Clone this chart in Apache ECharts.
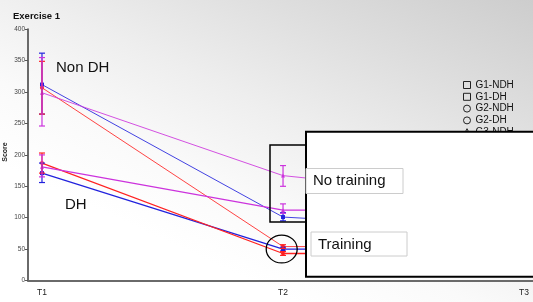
<!DOCTYPE html>
<html>
<head>
<meta charset="utf-8">
<script src="https://cdn.jsdelivr.net/npm/echarts@6/dist/echarts.min.js"></script>
<style>
  html, body { margin: 0; padding: 0; }
  body {
    width: 533px; height: 302px; overflow: hidden;
    background: linear-gradient(205deg, #cdcdcd 0%, #dedede 22%, #eeeeee 42%, #fafafa 60%, #ffffff 75%);
  }
  #chart { width: 533px; height: 302px; }
</style>
</head>
<body>
<div id="chart"></div>
<script>
// time points (x positions 0, 1, 2)
const timePoints = ["T1", "T2", "T3"];
const seriesNames = ["G1-NDH", "G1-DH", "G2-NDH", "G2-DH", "G3-NDH", "G3-DH"];

// mean scores per series at T1, T2, T3 (T3 hidden behind the white box)
const g1Ndh = [312, 101, 80];
const g1Dh = [171, 50, 50];
const g2Ndh = [307, 54, 54];
const g2Dh = [187, 43, 43];
const g3Ndh = [299, 167, 127];
const g3Dh = [181, 112, 112];

// error bar limits [low, high] per time point
const g1NdhErr = [[265, 362], [95, 108], null];
const g1DhErr = [[156, 187], [47, 53], null];
const g2NdhErr = [[265, 349], [51, 57], null];
const g2DhErr = [[171, 203], [40, 46], null];
const g3NdhErr = [[246, 355], [150, 183], null];
const g3DhErr = [[165, 200], [107, 122], null];

const yTicks = [0, 50, 100, 150, 200, 250, 300, 350, 400];

const blue = "#2222dd";
const red = "#ff2222";
const magenta = "#cc33dd";

const groups = [
  { name: seriesNames[0], values: g1Ndh, err: g1NdhErr, color: blue, symbol: "rect", ndh: true },
  { name: seriesNames[1], values: g1Dh, err: g1DhErr, color: blue, symbol: "rect", ndh: false },
  { name: seriesNames[2], values: g2Ndh, err: g2NdhErr, color: red, symbol: "circle", ndh: true },
  { name: seriesNames[3], values: g2Dh, err: g2DhErr, color: red, symbol: "circle", ndh: false },
  { name: seriesNames[4], values: g3Ndh, err: g3NdhErr, color: magenta, symbol: "triangle", ndh: true },
  { name: seriesNames[5], values: g3Dh, err: g3DhErr, color: magenta, symbol: "triangle", ndh: false },
];

const font = "Liberation Sans";
const series = [];

groups.forEach((g) => {
  series.push({
    name: g.name,
    type: "line",
    data: g.values.map((v, i) => [i, v]),
    symbol: g.symbol,
    symbolSize: 4,
    itemStyle: { color: g.color },
    lineStyle: { color: g.color, width: g.ndh ? 1 : 1.3, opacity: g.ndh ? 0.85 : 1 },
    z: 3,
  });
  const errData = [];
  g.err.forEach((e, i) => { if (e) errData.push([i, e[0], e[1]]); });
  series.push({
    name: g.name,
    type: "custom",
    data: errData,
    z: 4,
    renderItem: (params, api) => {
      const x = api.value(0);
      const lo = api.coord([x, api.value(1)]);
      const hi = api.coord([x, api.value(2)]);
      const w = 3;
      const style = { stroke: g.color, lineWidth: 1.2 };
      return {
        type: "group",
        children: [
          { type: "line", shape: { x1: lo[0], y1: lo[1], x2: hi[0], y2: hi[1] }, style },
          { type: "line", shape: { x1: lo[0] - w, y1: lo[1], x2: lo[0] + w, y2: lo[1] }, style },
          { type: "line", shape: { x1: hi[0] - w, y1: hi[1], x2: hi[0] + w, y2: hi[1] }, style },
        ],
      };
    },
  });
});

const legendIcons = ["rect", "rect", "circle", "circle", "triangle", "triangle"];

const chart = echarts.init(document.getElementById("chart"), null, { renderer: "canvas" });
chart.setOption({
  animation: false,
  backgroundColor: "transparent",
  textStyle: { fontFamily: font },
  grid: { left: 28, right: 0, top: 29.3, bottom: 21.5, outerBoundsMode: "none", containLabel: false },
  legend: {
    orient: "vertical",
    left: 463,
    top: 80,
    padding: 0,
    itemWidth: 7,
    itemHeight: 7,
    itemGap: 1.8,
    textStyle: { fontSize: 10, color: "#111", fontFamily: font },
    data: seriesNames.map((n, i) => ({
      name: n,
      icon: legendIcons[i],
      itemStyle: { color: "rgba(0,0,0,0)", borderColor: "#222", borderWidth: 1 },
    })),
  },
  xAxis: {
    type: "value",
    min: -0.058,
    max: 2.037,
    axisLine: { onZero: false, lineStyle: { color: "#6a6a6a", width: 2 } },
    axisTick: { show: false },
    splitLine: { show: false },
    axisLabel: {
      customValues: [0, 1, 2],
      formatter: (v) => timePoints[Math.round(v)] || "",
      fontSize: 8.5,
      color: "#222",
      margin: 8,
    },
  },
  yAxis: {
    type: "value",
    min: 0,
    max: 400,
    interval: 50,
    axisLine: { show: true, onZero: false, lineStyle: { color: "#6a6a6a", width: 2 } },
    axisTick: { show: true, length: 3, lineStyle: { color: "#555" } },
    splitLine: { show: false },
    axisLabel: {
      fontSize: 6.5,
      color: "#444",
      margin: 3,
      formatter: (v) => (yTicks.includes(v) ? String(v) : ""),
    },
  },
  series,
  graphic: [
    { type: "text", left: 13, top: 11, z: 10,
      style: { text: "Exercise 1", font: "bold 9.5px " + font, fill: "#111" } },
    { type: "text", x: 5.5, y: 152, rotation: Math.PI / 2, z: 10,
      style: { text: "Score", font: "bold 7px " + font, fill: "#222", align: "center", verticalAlign: "middle" } },
    { type: "text", left: 56, top: 60, z: 10,
      style: { text: "Non DH", font: "15px " + font, fill: "#111" } },
    { type: "text", left: 65, top: 197, z: 10,
      style: { text: "DH", font: "15px " + font, fill: "#111" } },
    { type: "rect", shape: { x: 270, y: 145, width: 45, height: 77 }, z: 50,
      style: { fill: "none", stroke: "#000", lineWidth: 1.5 } },
    { type: "circle", shape: { cx: 0, cy: 0, r: 15.5 }, x: 281.7, y: 249, scaleY: 0.9, z: 50,
      style: { fill: "none", stroke: "#000", lineWidth: 1.3 } },
    { type: "rect", shape: { x: 306, y: 131.7, width: 240, height: 145 }, z: 100,
      style: { fill: "#fff", stroke: "#000", lineWidth: 2 } },
    { type: "rect", shape: { x: 306, y: 168.5, width: 97, height: 25 }, z: 101,
      style: { fill: "#fff", stroke: "#cccccc", lineWidth: 1 } },
    { type: "text", x: 313, y: 181, z: 102,
      style: { text: "No training", font: "15px " + font, fill: "#111", verticalAlign: "middle" } },
    { type: "rect", shape: { x: 311, y: 232, width: 96, height: 24 }, z: 101,
      style: { fill: "#fff", stroke: "#cccccc", lineWidth: 1 } },
    { type: "text", x: 318, y: 244.5, z: 102,
      style: { text: "Training", font: "15px " + font, fill: "#111", verticalAlign: "middle" } },
  ],
});
</script>
</body>
</html>
